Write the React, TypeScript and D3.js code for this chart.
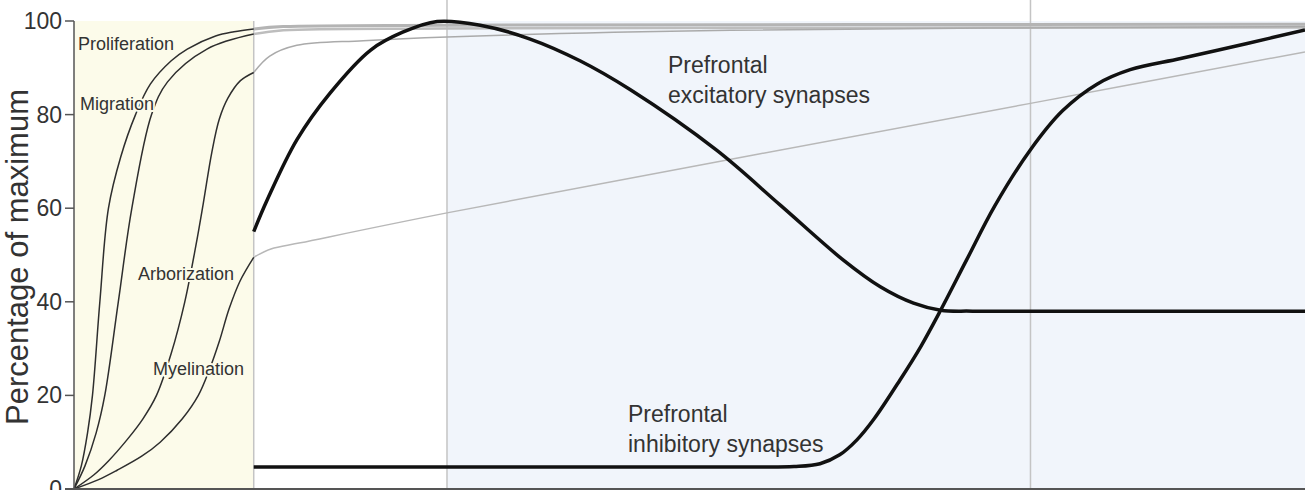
import React from "react";
import * as d3 from "d3";

type Pt = [number, number];

// developmental time (arbitrary units, 0-100) vs percentage of maximum
const proliferation: Pt[] = [
  [0, 0], [0.6, 5], [1.1, 12], [1.5, 20], [2.1, 40], [2.8, 60], [3.8, 71],
  [5.0, 80], [6.2, 86.5], [7.9, 91.5], [9.2, 94], [11.5, 96.8], [13.0, 97.7], [14.6, 98.3],
];
const proliferationLate: Pt[] = [[14.6, 98.3], [17, 98.8], [30, 99.1], [100, 99.3]];

const migration: Pt[] = [
  [0, 0], [0.9, 5], [1.8, 12], [2.5, 20], [3.6, 40], [4.7, 60], [6.3, 80],
  [7.6, 87], [10.8, 94], [14.6, 97.2],
];
const migrationLate: Pt[] = [[14.6, 97.2], [17, 98.0], [30, 98.4], [100, 98.6]];

const arborization: Pt[] = [
  [0, 0], [1.6, 3], [2.8, 6], [4.3, 10.5], [5.6, 15], [6.7, 20], [7.9, 29],
  [9.0, 40], [9.9, 52], [10.5, 61], [11.2, 72], [11.8, 79], [12.5, 83.5], [13.5, 87.2], [14.6, 89],
];
const arborizationLate: Pt[] = [
  [14.6, 89], [15.9, 92.5], [18.1, 94.8], [23.5, 95.8], [30.3, 96.6], [53.3, 98.0], [100, 98.8],
];

const myelination: Pt[] = [
  [0, 0], [2, 2], [3.5, 4], [5.5, 7], [7.0, 10], [8.8, 15], [10.1, 20], [11.0, 25.5],
  [11.8, 31.5], [12.6, 38.5], [13.5, 44.5], [14.6, 49.5],
];
const myelinationLate: Pt[] = [
  [14.6, 49.5], [16, 51.3], [18.4, 52.6], [30.3, 59], [77.7, 82.4], [100, 93.4],
];

const excitatory: Pt[] = [
  [14.6, 55], [15.7, 61.8], [18.1, 74.6], [20.8, 84.6], [24.1, 93.8], [26.7, 97.6],
  [29.5, 99.9], [33, 99.1], [37, 96.2], [41.1, 91.5], [45.2, 85.3], [52.2, 72.4],
  [57.4, 60.6], [62.5, 48.9], [65.5, 43.2], [68.2, 39.7], [70.4, 38.2], [73, 38], [85, 38], [100, 38],
];

const inhibitory: Pt[] = [
  [14.6, 4.7], [35, 4.7], [55, 4.7], [58.5, 4.8], [60.6, 5.4], [62.2, 7.3], [63.6, 10.5], [65, 15],
  [67.1, 23.3], [68.8, 30.5], [70.4, 38.2], [72.5, 48.9], [74.8, 60.5], [77.7, 72.5], [80.3, 80.8],
  [83.1, 86.5], [85.8, 89.6], [89.9, 92.0], [95.3, 95.2], [100, 98.1],
];

const stageBounds = [14.6, 30.3, 77.7];
const yTicks = [0, 20, 40, 60, 80, 100];

const W = 1305;
const H = 490;

export default function App() {
  const x = d3.scaleLinear().domain([0, 100]).range([74, 1305]);
  const y = d3.scaleLinear().domain([0, 100]).range([489, 21]);
  const line = d3
    .line<Pt>()
    .x((d) => x(d[0]))
    .y((d) => y(d[1]))
    .curve(d3.curveCatmullRom.alpha(0.5));

  const font = "'Liberation Sans', Arial, sans-serif";
  const textColor = "#333";
  const yellow = "#fcfbea";
  const blue = "#f1f5fb";

  const smallLabel = (txt: string, px: number, py: number) => (
    <text
      x={px}
      y={py}
      fontSize={18}
      fill={textColor}
      stroke={yellow}
      strokeWidth={4}
      paintOrder="stroke"
      strokeLinejoin="round"
    >
      {txt}
    </text>
  );

  return (
    <div style={{ position: "absolute", left: 0, top: 0 }}>
      <svg width={W} height={H} style={{ display: "block", fontFamily: font }}>
        <rect x={0} y={0} width={W} height={H} fill="#fff" />
        {/* background stages */}
        <rect x={x(0)} y={y(100)} width={x(stageBounds[0]) - x(0)} height={y(0) - y(100)} fill={yellow} />
        <rect x={x(stageBounds[1])} y={y(100)} width={x(100) - x(stageBounds[1])} height={y(0) - y(100)} fill={blue} />
        <line x1={x(stageBounds[0])} x2={x(stageBounds[0])} y1={y(100)} y2={y(0)} stroke="#c4c4c4" strokeWidth={1.5} />
        <line x1={x(stageBounds[1])} x2={x(stageBounds[1])} y1={0} y2={y(0)} stroke="#c4c4c4" strokeWidth={1.5} />
        <line x1={x(stageBounds[2])} x2={x(stageBounds[2])} y1={0} y2={y(0)} stroke="#c4c4c4" strokeWidth={1.5} />

        {/* later, faded continuations */}
        <path d={line(proliferationLate) ?? ""} fill="none" stroke="#b4b4b4" strokeWidth={3} />
        <path d={line(migrationLate) ?? ""} fill="none" stroke="#bdbdbd" strokeWidth={2.5} />
        <path d={line(arborizationLate) ?? ""} fill="none" stroke="#aaa" strokeWidth={1.5} />
        <path d={line(myelinationLate) ?? ""} fill="none" stroke="#b8b8b8" strokeWidth={1.5} />

        {/* early processes */}
        {[proliferation, migration, arborization, myelination].map((s, i) => (
          <path key={i} d={line(s) ?? ""} fill="none" stroke="#2e2e2e" strokeWidth={1.5} />
        ))}

        {smallLabel("Proliferation", 78, 50)}
        {smallLabel("Migration", 80, 110)}
        {smallLabel("Arborization", 138, 280)}
        {smallLabel("Myelination", 153, 375)}

        {/* axes */}
        <line x1={x(0)} x2={x(0)} y1={y(100)} y2={y(0)} stroke="#555" strokeWidth={1.5} />
        <line x1={x(0) - 9} x2={W} y1={y(0)} y2={y(0)} stroke="#555" strokeWidth={2} />
        {yTicks.map((t) => (
          <g key={t}>
            <line x1={x(0) - 9} x2={x(0)} y1={y(t)} y2={y(t)} stroke="#555" strokeWidth={1.5} />
            <text
              x={x(0) - 12}
              y={y(t)}
              textAnchor="end"
              dominantBaseline="central"
              fontSize={23}
              fill={textColor}
            >
              {t}
            </text>
          </g>
        ))}
        <text
          transform={`translate(28, ${(y(0) + y(100)) / 2 + 2}) rotate(-90)`}
          textAnchor="middle"
          fontSize={31}
          fill={textColor}
        >
          Percentage of maximum
        </text>

        {/* prefrontal synapses */}
        <path d={line(excitatory) ?? ""} fill="none" stroke="#111" strokeWidth={3.5} />
        <path d={line(inhibitory) ?? ""} fill="none" stroke="#111" strokeWidth={3.5} />

        <text x={668} y={73} fontSize={23} fill={textColor}>Prefrontal</text>
        <text x={668} y={103} fontSize={23} fill={textColor}>excitatory synapses</text>
        <text x={628} y={422} fontSize={23} fill={textColor}>Prefrontal</text>
        <text x={628} y={452} fontSize={23} fill={textColor}>inhibitory synapses</text>
      </svg>
    </div>
  );
}
